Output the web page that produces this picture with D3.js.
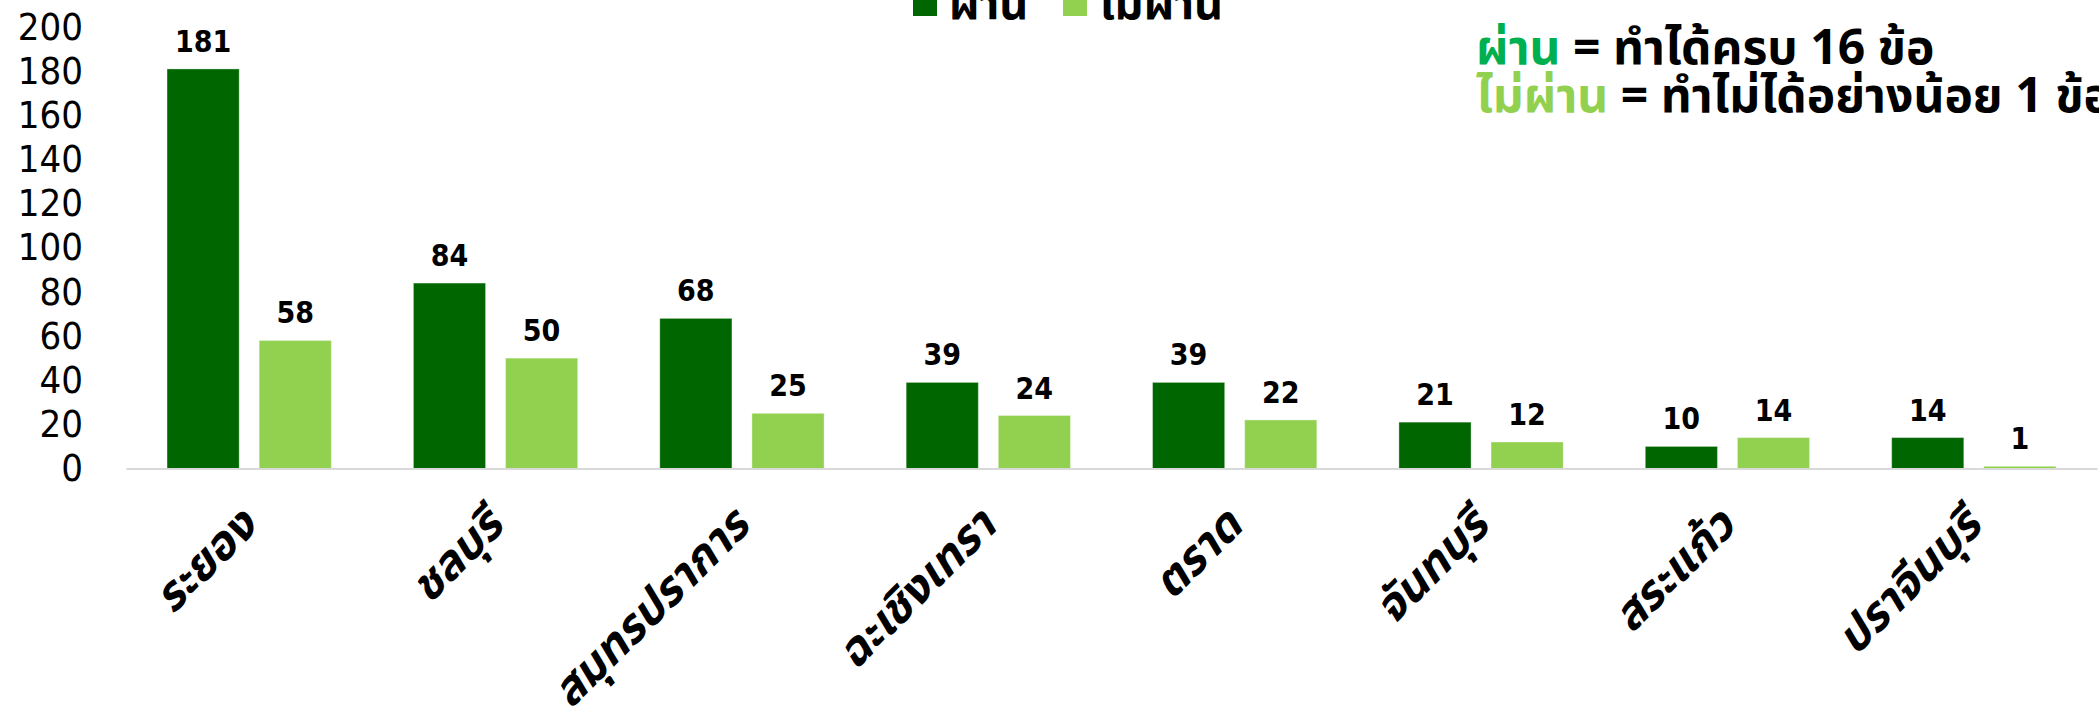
<!DOCTYPE html>
<html>
<head>
<meta charset="utf-8">
<script src="https://cdn.jsdelivr.net/npm/d3@7"></script>
<style>
  html, body { margin: 0; padding: 0; background: #fff; overflow: hidden; }
  svg { display: block; }
</style>
</head>
<body>
<div id="chart"></div>
<script>
const provinces = ["ระยอง", "ชลบุรี", "สมุทรปราการ", "ฉะเชิงเทรา", "ตราด", "จันทบุรี", "สระแก้ว", "ปราจีนบุรี"];
const passed = [181, 84, 68, 39, 39, 21, 10, 14];
const failed = [58, 50, 25, 24, 22, 12, 14, 1];
const seriesNames = ["ผ่าน", "ไม่ผ่าน"];
const yTicks = [0, 20, 40, 60, 80, 100, 120, 140, 160, 180, 200];

const colors = ["#006600", "#92D050"];
const width = 2099;
const height = 714;
const fontNum = "'DejaVu Sans Condensed', 'DejaVu Sans', sans-serif";
const fontThai = "Tahoma, 'Noto Sans Thai', 'Noto Sans Thai UI', Loma, Garuda, 'DejaVu Sans', sans-serif";

const rows = provinces.map((p, i) => ({ province: p, values: [passed[i], failed[i]] }));

const svg = d3.select("#chart")
  .append("svg")
  .attr("width", width)
  .attr("height", height);

const x0 = d3.scaleBand().domain(provinces).range([126, 2097]).padding(0);
const x1 = d3.scaleBand().domain([0, 1]).range([0, x0.bandwidth()])
  .paddingInner(0.217).paddingOuter(0.4455);
const y = d3.scaleLinear().domain([0, 200]).range([468.5, 27]);

// y axis, labels only
const yAxis = svg.append("g")
  .attr("transform", "translate(126,0)")
  .call(d3.axisLeft(y).tickValues(yTicks).tickSize(0).tickPadding(43));
yAxis.select(".domain").remove();
yAxis.selectAll("text")
  .attr("font-family", fontNum)
  .attr("font-size", 38)
  .attr("fill", "#000");

// bars
const groups = svg.selectAll(".grp")
  .data(rows)
  .enter().append("g")
  .attr("transform", d => `translate(${x0(d.province)},0)`);

groups.selectAll("rect")
  .data(d => d.values)
  .enter().append("rect")
  .attr("x", (d, i) => x1(i))
  .attr("y", d => y(d))
  .attr("width", x1.bandwidth())
  .attr("height", d => y(0) - y(d))
  .attr("fill", (d, i) => colors[i])
  .attr("stroke", "#ffffff")
  .attr("stroke-opacity", 0.35)
  .attr("stroke-width", 1);

// value labels
groups.selectAll(".val")
  .data(d => d.values)
  .enter().append("text")
  .attr("x", (d, i) => x1(i) + x1.bandwidth() / 2)
  .attr("y", d => y(d) - 17)
  .attr("text-anchor", "middle")
  .attr("font-family", fontNum)
  .attr("font-weight", "bold")
  .attr("font-size", 30)
  .attr("fill", "#000")
  .text(d => d);

// x axis (baseline + rotated labels, slanted like the original)
const xAxis = svg.append("g")
  .attr("transform", `translate(0,${y(0)})`)
  .call(d3.axisBottom(x0).tickSize(0).tickSizeOuter(0));
xAxis.select(".domain")
  .attr("stroke", "#d9d9d9")
  .attr("stroke-width", 2);
xAxis.selectAll(".tick text")
  .attr("font-family", fontThai)
  .attr("font-weight", "bold")
  .attr("font-size", 46)
  .attr("fill", "#000")
  .attr("text-anchor", "end")
  .attr("dy", 0)
  .attr("y", 0)
  .attr("transform", "translate(10,60) rotate(-45) skewX(-14)");

// legend at the top (partly cut off by the top edge)
const legendX = [913, 1063];
const legend = svg.append("g");
const items = legend.selectAll("g")
  .data(seriesNames)
  .enter().append("g")
  .attr("transform", (d, i) => `translate(${legendX[i]},0)`);
items.append("rect")
  .attr("x", 0).attr("y", -8)
  .attr("width", 24).attr("height", 24)
  .attr("fill", (d, i) => colors[i]);
items.append("text")
  .attr("x", 36).attr("y", 19)
  .attr("font-family", fontThai)
  .attr("font-weight", "bold")
  .attr("font-size", 45)
  .attr("fill", "#000")
  .text(d => d);

// note on the right
const notes = [
  { key: "ผ่าน", color: "#00B050", rest: " = ทำได้ครบ 16 ข้อ" },
  { key: "ไม่ผ่าน", color: "#92D050", rest: " = ทำไม่ได้อย่างน้อย 1 ข้อ" }
];
const note = svg.selectAll(".note")
  .data(notes)
  .enter().append("text")
  .attr("x", 1476)
  .attr("y", (d, i) => 64 + i * 48)
  .attr("font-family", fontThai)
  .attr("font-weight", "bold")
  .attr("font-size", 48);
note.append("tspan").attr("fill", d => d.color).text(d => d.key);
note.append("tspan").attr("fill", "#000").text(d => d.rest);
</script>
</body>
</html>
